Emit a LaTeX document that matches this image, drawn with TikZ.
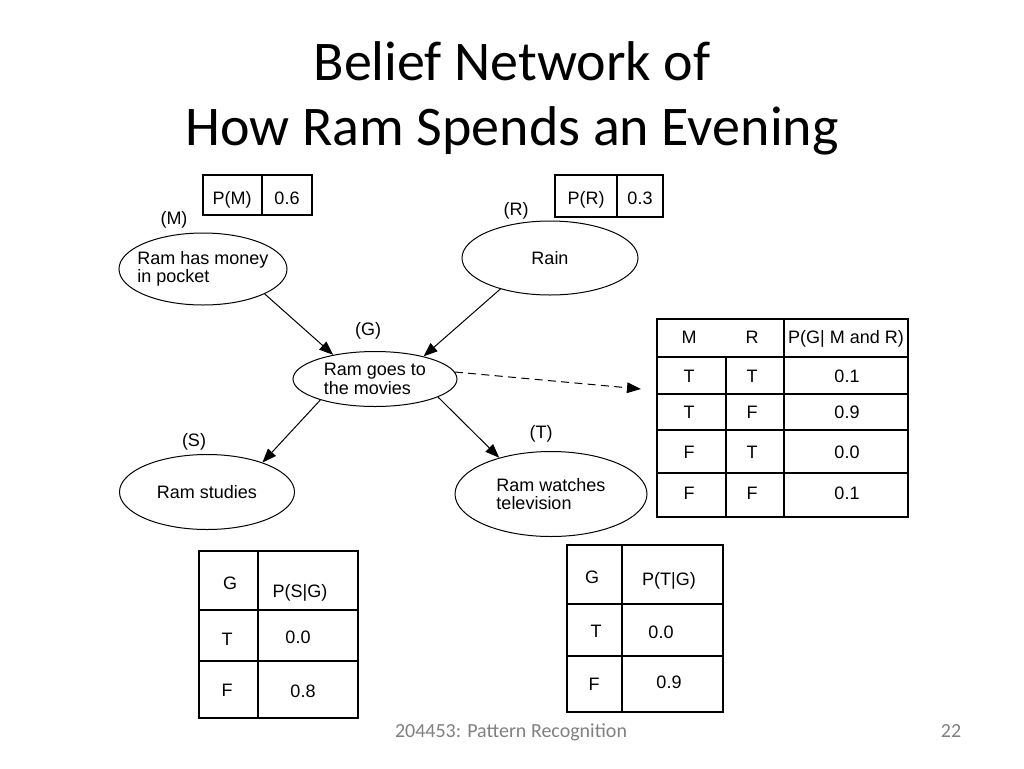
\documentclass[tikz,border=0pt]{standalone}
\usepackage{fontspec}
\setmainfont{Carlito}
\newfontfamily\arialfont{Liberation Sans}
\usetikzlibrary{shapes.geometric,arrows.meta}

\tikzset{every picture/.style={line width=0.75pt}}
\tikzset{
  belief/.style={draw, ellipse, inner xsep=-20pt, inner ysep=-4pt, align=left, font=\arialfont\fontsize{13.5}{14}\selectfont},
  tag/.style={font=\arialfont\fontsize{13.5}{15.5}\selectfont, text height=9.5pt, text depth=2.8pt, yshift=-1.5pt},
  cell/.style={font=\arialfont\fontsize{13.5}{15.5}\selectfont, inner sep=0.75pt, text height=9.5pt, text depth=2.8pt, yshift=-1.5pt},
  cpt/.style={line width=1.5pt},
  link/.style={-{Triangle[length=10.5pt,width=8pt]}},
}

\begin{document}
\begin{tikzpicture}[x=0.75pt,y=0.75pt,yscale=-1,xscale=1]
\useasboundingbox (0,0) rectangle (1024,768);

% Title
\node (title1) [anchor=base, font=\fontsize{42}{50}\selectfont] at (512,80) {Belief Network of};
\node (title2) [anchor=base, font=\fontsize{42}{50}\selectfont] at (512,145) {How Ram Spends an Evening};

% Belief nodes
\node (M) [belief, minimum width=126pt, minimum height=54pt] at (203,269) {Ram has money\\in pocket};
\node (R) [belief, minimum width=132pt, minimum height=55.5pt] at (550,258) {Rain};
\node (G) [belief, minimum width=123pt, minimum height=41.25pt] at (375,379) {Ram goes to\\the movies};
\node (S) [belief, minimum width=131.25pt, minimum height=56.25pt] at (207,492) {Ram studies};
\node (T) [belief, minimum width=144pt, minimum height=63.75pt] at (551,494) {Ram watches\\television};

% Node tags
\node (tagM) [tag] at (174,218) {(M)};
\node (tagR) [tag] at (516,209) {(R)};
\node (tagG) [tag] at (368,329) {(G)};
\node (tagS) [tag] at (194,440) {(S)};
\node (tagT) [tag] at (541,432) {(T)};

% Links
\draw [link] (M.-22) -- (G.150);
\draw [link] (R.-148) -- (G.25);
\draw [link] (G.-159) -- (S.28);
\draw [link] (G.-16) -- (T.145);
\coordinate (cptG) at (641,389);
\draw [link, dash pattern=on 6pt off 4pt] (G.5) -- (cptG);

% Table P(M)
\draw [cpt] (203,175) rectangle (312,215);
\draw [cpt] (262,175) -- (262,215);
\node (pM) [cell] at (232,198) {P(M)};
\node (pMv) [cell] at (287,198) {0.6};

% Table P(R)
\draw [cpt] (555,175) rectangle (663,217);
\draw [cpt] (617,175) -- (617,217);
\node (pR) [cell] at (586,198) {P(R)};
\node (pRv) [cell] at (640,198) {0.3};

% Table P(G|M,R)
\draw [cpt] (657,319) rectangle (908,517);
\draw [cpt] (657,357) -- (908,357);
\draw [cpt] (657,394) -- (908,394);
\draw [cpt] (657,430) -- (908,430);
\draw [cpt] (657,473) -- (908,473);
\draw [cpt] (784,319) -- (784,517);
\draw [cpt] (726,357) -- (726,517);
\node (gM) [cell] at (689,337) {M};
\node (gR) [cell] at (752,337) {R};
\node (gP) [cell] at (846,337) {P(G| M and R)};
\node (g1a) [cell] at (689,376) {T};
\node (g1b) [cell] at (752,376) {T};
\node (g1c) [cell] at (847,376) {0.1};
\node (g2a) [cell] at (689,412) {T};
\node (g2b) [cell] at (752,412) {F};
\node (g2c) [cell] at (847,412) {0.9};
\node (g3a) [cell] at (689,452) {F};
\node (g3b) [cell] at (752,452) {T};
\node (g3c) [cell] at (847,452) {0.0};
\node (g4a) [cell] at (689,493) {F};
\node (g4b) [cell] at (752,493) {F};
\node (g4c) [cell] at (847,493) {0.1};

% Table P(S|G)
\draw [cpt] (199,551) rectangle (358,718);
\draw [cpt] (199,610) -- (358,610);
\draw [cpt] (199,661) -- (358,661);
\draw [cpt] (258,551) -- (258,718);
\node (sG) [cell] at (230,583) {G};
\node (sP) [cell] at (300,591) {P(S|G)};
\node (s1a) [cell] at (227,639) {T};
\node (s1b) [cell] at (298,637) {0.0};
\node (s2a) [cell] at (227,690) {F};
\node (s2b) [cell] at (303,691) {0.8};

% Table P(T|G)
\draw [cpt] (567,545) rectangle (723,712);
\draw [cpt] (567,604) -- (723,604);
\draw [cpt] (567,656) -- (723,656);
\draw [cpt] (622,545) -- (622,712);
\node (tG) [cell] at (592,577) {G};
\node (tP) [cell] at (669,579) {P(T|G)};
\node (t1a) [cell] at (596,631) {T};
\node (t1b) [cell] at (661,632) {0.0};
\node (t2a) [cell] at (594,684) {F};
\node (t2b) [cell] at (669,682) {0.9};

% Footer
\node (foot) [anchor=base, text=black!50, font=\fontsize{15}{17}\selectfont] at (511,737) {204453: Pattern Recognition};
\node (page) [anchor=base, text=black!50, font=\fontsize{15}{17}\selectfont] at (951,737) {22};

\end{tikzpicture}
\end{document}
